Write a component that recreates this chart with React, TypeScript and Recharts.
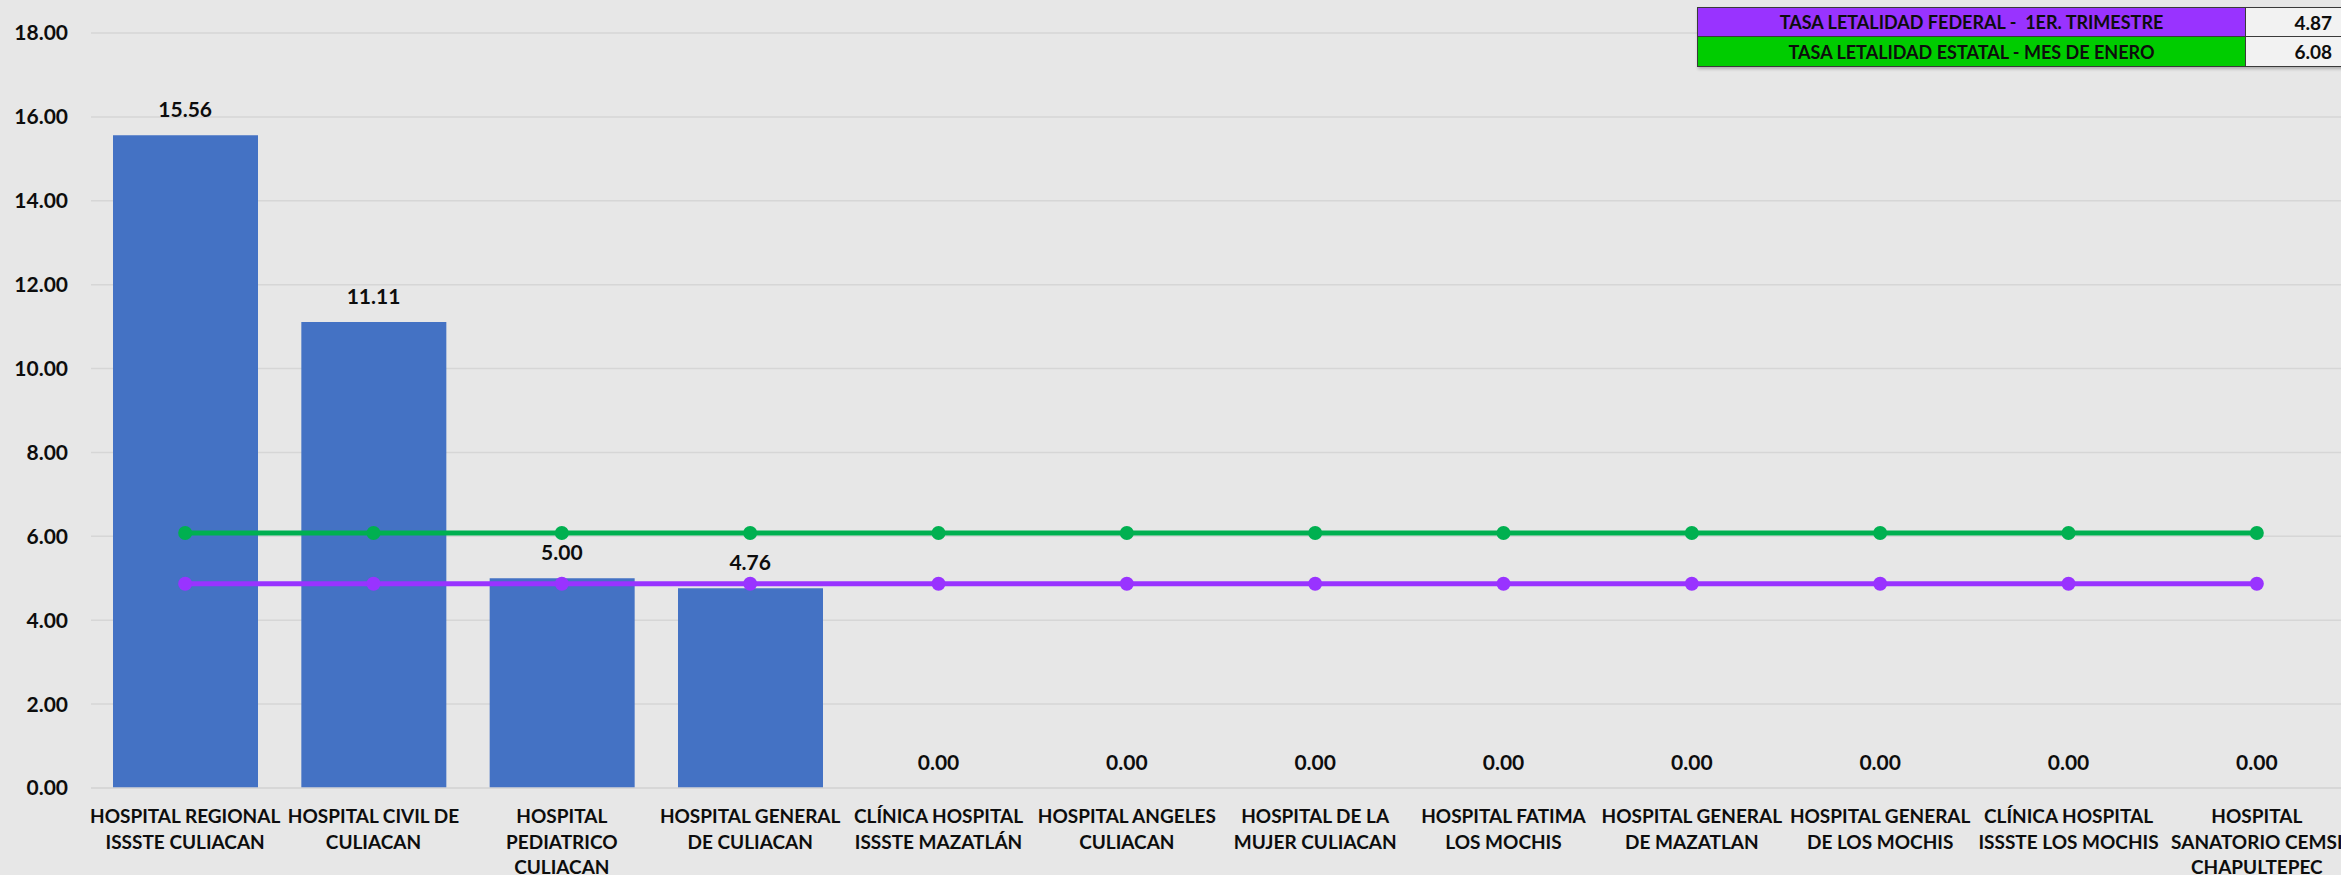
import React from "react";
import {
  ComposedChart,
  Bar,
  Line,
  XAxis,
  YAxis,
  CartesianGrid,
  LabelList,
  Text,
} from "recharts";

const hospitales = [
  "HOSPITAL REGIONAL\nISSSTE CULIACAN",
  "HOSPITAL CIVIL DE\nCULIACAN",
  "HOSPITAL\nPEDIATRICO\nCULIACAN",
  "HOSPITAL GENERAL\nDE CULIACAN",
  "CLÍNICA HOSPITAL\nISSSTE MAZATLÁN",
  "HOSPITAL ANGELES\nCULIACAN",
  "HOSPITAL DE LA\nMUJER CULIACAN",
  "HOSPITAL FATIMA\nLOS MOCHIS",
  "HOSPITAL GENERAL\nDE MAZATLAN",
  "HOSPITAL GENERAL\nDE LOS MOCHIS",
  "CLÍNICA HOSPITAL\nISSSTE LOS MOCHIS",
  "HOSPITAL\nSANATORIO CEMSI\nCHAPULTEPEC",
];

const tasaHospital = [15.56, 11.11, 5.0, 4.76, 0, 0, 0, 0, 0, 0, 0, 0];
const tasaFederal = [4.87, 4.87, 4.87, 4.87, 4.87, 4.87, 4.87, 4.87, 4.87, 4.87, 4.87, 4.87];
const tasaEstatal = [6.08, 6.08, 6.08, 6.08, 6.08, 6.08, 6.08, 6.08, 6.08, 6.08, 6.08, 6.08];

const yTicks = [0, 2, 4, 6, 8, 10, 12, 14, 16, 18];

const tablaEtiquetas = [
  "TASA LETALIDAD FEDERAL -  1ER. TRIMESTRE",
  "TASA LETALIDAD ESTATAL - MES DE ENERO",
];

const FONT = "Lato, 'Open Sans', sans-serif";
const PURPLE = "#9933FF";
const GREEN = "#00B050";

const data = hospitales.map((name, i) => ({
  name,
  hospital: tasaHospital[i],
  federal: tasaFederal[i],
  estatal: tasaEstatal[i],
}));

const tablaFilas = [
  { label: tablaEtiquetas[0], value: tasaFederal[0], color: PURPLE },
  { label: tablaEtiquetas[1], value: tasaEstatal[0], color: "#00CC00" },
];

function HospitalTick(props: any) {
  const { x, y, payload } = props;
  const lines = String(payload.value).split("\n");
  return (
    <g>
      {lines.map((line, i) => (
        <Text
          key={i}
          x={x}
          y={y + 27 + i * 25.5}
          textAnchor="middle"
          fontFamily={FONT}
          fontWeight={700}
          fontSize={19}
          fill="#0D0D0D"
        >
          {line}
        </Text>
      ))}
    </g>
  );
}

export default function App() {
  return (
    <div
      style={{
        position: "absolute",
        left: 0,
        top: 0,
        width: 2341,
        height: 875,
        overflow: "hidden",
        background: "#E7E7E7",
      }}
    >
      <ComposedChart
        width={2351}
        height={875}
        data={data}
        margin={{ top: 33, right: 0, left: 0, bottom: 0 }}
        barCategoryGap={22}
      >
        <CartesianGrid vertical={false} stroke="#D6D6D6" strokeWidth={1.5} />
        <XAxis
          dataKey="name"
          height={87}
          axisLine={{ stroke: "#D6D6D6", strokeWidth: 1.5 }}
          tickLine={false}
          interval={0}
          tick={<HospitalTick />}
        />
        <YAxis
          width={91}
          domain={[0, 18]}
          ticks={yTicks}
          axisLine={false}
          tickLine={false}
          tickSize={0}
          tickMargin={23}
          tickFormatter={(v: number) => v.toFixed(2)}
          tick={{ fontFamily: FONT, fontWeight: 700, fontSize: 21, fill: "#0D0D0D" }}
        />
        <Bar dataKey="hospital" fill="#4472C4" barSize={145} isAnimationActive={false} />
        {/* invisible series so that zero-height bars still get their value label */}
        <Line
          dataKey="hospital"
          stroke="none"
          dot={false}
          activeDot={false}
          legendType="none"
          isAnimationActive={false}
        >
          <LabelList
            dataKey="hospital"
            position="top"
            offset={18}
            formatter={(v: number) => v.toFixed(2)}
            style={{ fontFamily: FONT, fontWeight: 700, fontSize: 21, fill: "#0D0D0D" }}
          />
        </Line>
        <Line
          type="linear"
          dataKey="estatal"
          stroke={GREEN}
          strokeWidth={5}
          dot={{ r: 7, fill: GREEN, stroke: "none" }}
          isAnimationActive={false}
        />
        <Line
          type="linear"
          dataKey="federal"
          stroke={PURPLE}
          strokeWidth={5}
          dot={{ r: 7, fill: PURPLE, stroke: "none" }}
          isAnimationActive={false}
        />
      </ComposedChart>

      <div
        style={{
          position: "absolute",
          left: 1697,
          top: 7,
          fontFamily: FONT,
          fontWeight: 700,
          fontSize: 18,
          color: "#0D0D0D",
          boxShadow: "1px 2px 3px rgba(0,0,0,0.25)",
        }}
      >
        {tablaFilas.map((row, i) => (
          <div key={i} style={{ display: "flex", height: 30 }}>
            <div
              style={{
                width: 547,
                background: row.color,
                border: "1px solid #3A3A3A",
                borderTop: i === 0 ? "1px solid #3A3A3A" : "none",
                display: "flex",
                alignItems: "center",
                justifyContent: "center",
                whiteSpace: "pre",
              }}
            >
              {row.label}
            </div>
            <div
              style={{
                width: 100,
                background: "#F2F2F2",
                borderTop: i === 0 ? "1px solid #3A3A3A" : "none",
                borderBottom: "1px solid #3A3A3A",
                display: "flex",
                alignItems: "center",
                justifyContent: "flex-end",
                paddingRight: 14,
                boxSizing: "border-box",
                fontSize: 19,
              }}
            >
              {row.value.toFixed(2)}
            </div>
          </div>
        ))}
      </div>
    </div>
  );
}
